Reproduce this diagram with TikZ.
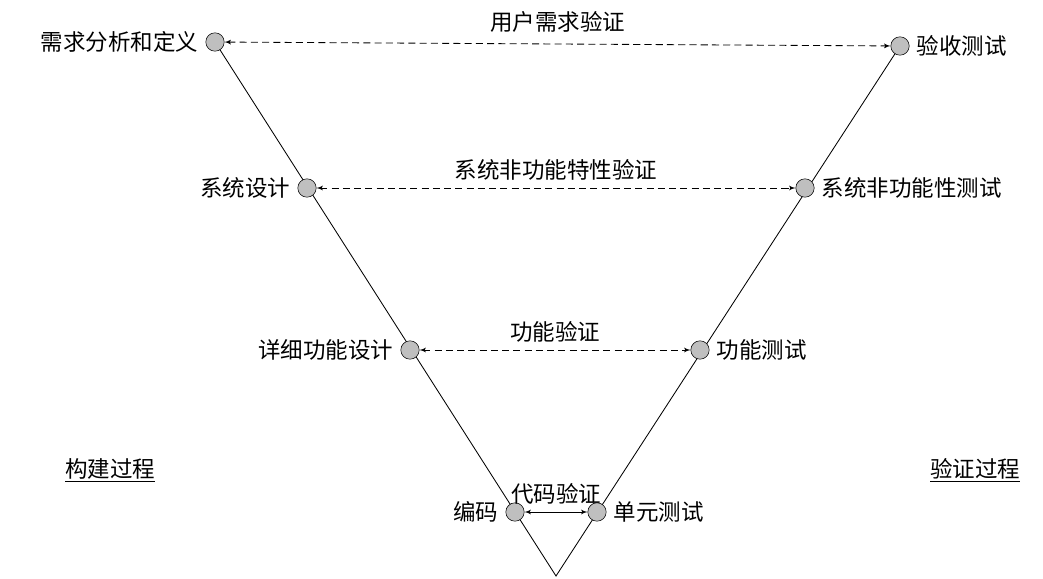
\documentclass[tikz,border=0pt]{standalone}
\usepackage{fontspec}
\setmainfont{Noto Sans CJK SC}
\usetikzlibrary{arrows}
\tikzset{stage/.style={circle,draw=black,fill=black!25,minimum size=4.6mm,inner sep=0pt}}
\tikzset{check/.style={black,dash pattern=on 5pt off 3pt,<->,>=latex',semithick}}
\tikzset{lbl/.style={font=\fontsize{16}{18}\selectfont,inner sep=2pt}}
\begin{document}
\begin{tikzpicture}
  \useasboundingbox (0,0) rectangle (26.075,14.45);
  % V shape
  \coordinate (V) at (13.9,0.05);
  \coordinate (A) at (5.375,13.4);
  \coordinate (B) at (22.5,13.3);
  \draw[semithick] (A) -- (V) -- (B);
  \node[stage] (L1) at (A) {};
  \node[stage] (L2) at (7.675,9.75) {};
  \node[stage] (L3) at (10.25,5.7) {};
  \node[stage] (L4) at (12.875,1.65) {};
  \node[stage] (R1) at (B) {};
  \node[stage] (R2) at (20.125,9.75) {};
  \node[stage] (R3) at (17.5,5.7) {};
  \node[stage] (R4) at (14.925,1.65) {};

  % Labels
  \node[lbl,left=1mm] (tL1) at (L1.west) {需求分析和定义};
  \node[lbl,left=1mm] (tL2) at (L2.west) {系统设计};
  \node[lbl,left=1mm] (tL3) at (L3.west) {详细功能设计};
  \node[lbl,left=1mm] (tL4) at (L4.west) {编码};
  \node[lbl,right=1mm] (tR1) at (R1.east) {验收测试};
  \node[lbl,right=1mm] (tR2) at (R2.east) {系统非功能性测试};
  \node[lbl,right=1mm] (tR3) at (R3.east) {功能测试};
  \node[lbl,right=1mm] (tR4) at (R4.east) {单元测试};
  \node[lbl] (build) at (2.75,2.7) {\underline{构建过程}};
  \node[lbl] (verify) at (24.375,2.7) {\underline{验证过程}};

  % Verification arrows
  \draw[check] (L1) -- node[lbl,above=2mm] {用户需求验证} (R1);
  \draw[check] (L2) -- node[lbl,above=1mm] {系统非功能特性验证} (R2);
  \draw[check] (L3) -- node[lbl,above=1mm] {功能验证} (R3);
  \draw[check,solid] (L4) -- node[lbl,above=1mm] {代码验证} (R4);
\end{tikzpicture}
\end{document}
